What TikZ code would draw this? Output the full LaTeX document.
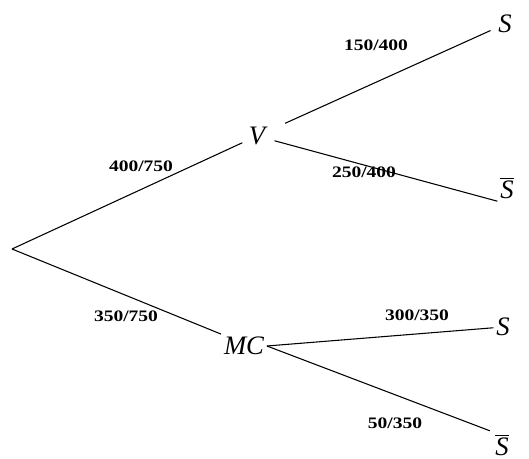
\documentclass[tikz,border=0pt]{standalone}
\usepackage{fontspec}
\setmainfont{Liberation Serif}
\newfontfamily\labfont{Liberation Serif Bold}[FakeStretch=1.22]
\begin{document}
\begin{tikzpicture}[x=0.75pt,y=-0.75pt,
  outcome/.style={font=\fontsize{20}{20}\selectfont\itshape, inner sep=2pt},
  prob/.style={font=\labfont\fontsize{12}{12}\selectfont, inner sep=0pt},
  branch/.style={draw=black, line width=0.8pt}]
\useasboundingbox (0,0) rectangle (529,459);
\coordinate (root) at (12,249);
\node[outcome] (V) at (257,136) {V};
\node[outcome] (MC) at (244,346) {MC};
\node[outcome] (S1) at (505,24) {S};
\node[outcome] (Sb1) at (507,188) {$\overline{\mbox{\itshape S}}$};
\node[outcome] (S2) at (503,327) {S};
\node[outcome] (Sb2) at (502,445) {$\overline{\mbox{\itshape S}}$};
\draw[branch, shorten >=3pt] (root) -- (V);
\draw[branch] (root) -- (MC.north west);
\draw[branch, shorten <=14pt, shorten >=4pt] (V) -- (S1);
\draw[branch, shorten <=5pt] (V) -- (Sb1.south west);
\draw[branch] (MC.east) -- (S2);
\draw[branch, shorten >=2pt] (MC.east) -- (Sb2.north west);
\node[prob] (p1) at (376,45) {150/400};
\node[prob] (p2) at (141,166) {400/750};
\node[prob] (p3) at (364,172) {250/400};
\node[prob] (p4) at (126,316) {350/750};
\node[prob] (p5) at (417,315) {300/350};
\node[prob] (p6) at (395,423) {50/350};
\end{tikzpicture}
\end{document}
